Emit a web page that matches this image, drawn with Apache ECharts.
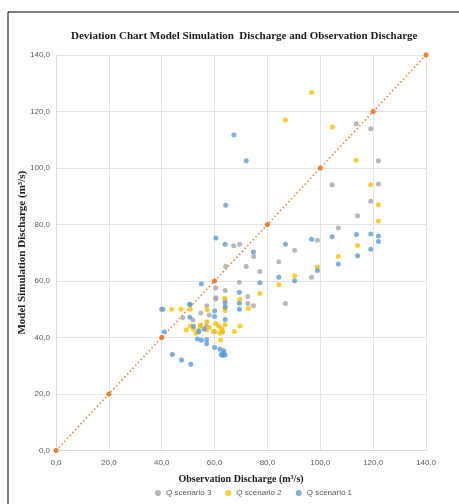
<!DOCTYPE html>
<html><head><meta charset="utf-8">
<script src="https://cdn.jsdelivr.net/npm/echarts@6/dist/echarts.min.js"></script>
<style>html,body{margin:0;padding:0;background:#fff}#c{width:459px;height:504px}</style>
</head><body><div id="c"></div>
<script>
const titleText = "Deviation Chart Model Simulation  Discharge and Observation Discharge";
const xAxisName = "Observation Discharge (m³/s)";
const yAxisName = "Model Simulation Discharge (m³/s)";
const seriesNames = ["Q scenario 3", "Q scenario 2", "Q scenario 1"];
const axisTicks = [0, 20, 40, 60, 80, 100, 120, 140];

const scenario1 = [[40,50],[41,42],[44,34],[47.5,32],[51,30.5],[50.5,51.8],[50.6,47.2],[52,44],[53.5,39.5],[55,39],[57,39.2],[57,37.8],[60,36.5],[62,35.8],[62.5,34],[63.5,34.5],[63,33.6],[64,33.8],[63.4,35.3],[55,59],[60,49.4],[60,47.4],[64,46.4],[64,52.3],[64,50.7],[69.4,52.1],[69.4,50],[69.4,56],[77.1,59.4],[74.7,70.3],[60.5,75.2],[64,73],[64.2,86.8],[67.3,111.7],[72,102.6],[86.8,73],[84.3,61.3],[90.3,60.1],[98.9,63.7],[96.7,74.8],[104.5,75.7],[106.8,66],[113.7,76.5],[114.1,68.9],[119.1,76.6],[119.1,71.2],[122,75.9],[122,74],[54,42],[56,43]];
const scenario2 = [[43.8,50],[47.3,50],[50.8,50],[57.2,49.8],[64,50.9],[64,49.6],[63.8,53.9],[69.5,53.5],[72.8,50.3],[77.1,55.6],[84.3,58.7],[90.3,61.9],[98.9,65],[106.8,68.7],[114.1,72.6],[122,81.2],[122,87],[119.1,94.1],[113.6,102.7],[104.6,114.5],[96.7,126.7],[86.8,117],[54.7,44.4],[57.1,45.6],[60.4,45],[62.5,43.3],[63,42.5],[61.5,44],[56.9,42.7],[59.6,42.1],[67.5,42.1],[69.7,44.1],[62.3,39.1],[50.8,44.1],[49.3,42.7],[52,43],[54.6,44.1],[53,41.5],[58,43.5],[64,44.5],[62,41.5]];
const scenario3 = [[40.5,50],[50.8,51.7],[51.8,46.2],[54.8,48.7],[57.1,51.2],[60.4,53.6],[60.4,57.5],[64,56.6],[64,53.3],[60.5,54.1],[64.2,65.2],[69.4,59.6],[72.6,54.5],[72.6,52],[74.7,51.2],[67.2,72.5],[69.5,73],[74.8,68.7],[72,65.1],[77.1,63.4],[84.3,66.8],[90.3,70.9],[98.9,74.4],[96.7,61.3],[86.8,52],[104.5,94.1],[106.8,78.8],[114.1,83.1],[119.1,88.2],[122,94.3],[122,102.6],[113.6,115.7],[119.1,113.9],[56.9,44],[60,42],[63,42],[58,48],[54,42.5],[48,47]];
const diagonal = [[0,0],[20,20],[40,40],[60,60],[80,80],[100,100],[120,120],[140,140]];

const fmt = v => v.toFixed(1).replace('.', ',');
const chart = echarts.init(document.getElementById('c'), null, {renderer: 'canvas'});
const sym = 5;
chart.setOption({
  animation: false,
  backgroundColor: '#fff',
  graphic: [{type: 'rect', shape: {x: 8, y: 12, width: 500, height: 520}, style: {fill: 'none', stroke: '#000', lineWidth: 1}, silent: true}],
  title: {text: titleText, left: 66, top: 26,
    textStyle: {fontFamily: 'Liberation Serif', fontWeight: 'bold', fontSize: 11, color: '#1a1a1a'}},
  grid: {left: 56, right: 33, top: 55, bottom: 53.5, containLabel: false},
  legend: {bottom: 2, left: 150, itemWidth: 6, itemHeight: 6, itemGap: 14,
    data: seriesNames.map(n => ({name: n, icon: 'circle'})),
    textStyle: {fontFamily: 'Liberation Sans', fontSize: 8, color: '#595959'}},
  xAxis: {type: 'value', min: axisTicks[0], max: axisTicks[axisTicks.length-1], interval: 20,
    name: xAxisName, nameLocation: 'middle', nameGap: 24, nameMoveOverlap: false,
    nameTextStyle: {fontFamily: 'Liberation Serif', fontWeight: 'bold', fontSize: 10, color: '#1a1a1a'},
    axisLine: {show: true, lineStyle: {color: '#d9d9d9'}}, axisTick: {show: false},
    axisLabel: {formatter: fmt, fontFamily: 'Liberation Sans', fontSize: 8, color: '#595959', margin: 8},
    splitLine: {show: true, lineStyle: {color: '#e3e3e3'}}},
  yAxis: {type: 'value', min: axisTicks[0], max: axisTicks[axisTicks.length-1], interval: 20,
    name: yAxisName, nameLocation: 'middle', nameGap: 28, nameMoveOverlap: false,
    nameTextStyle: {fontFamily: 'Liberation Serif', fontWeight: 'bold', fontSize: 11, color: '#1a1a1a'},
    axisLine: {show: true, lineStyle: {color: '#d9d9d9'}}, axisTick: {show: false},
    axisLabel: {formatter: fmt, fontFamily: 'Liberation Sans', fontSize: 8, color: '#595959', margin: 6},
    splitLine: {show: true, lineStyle: {color: '#e3e3e3'}}},
  series: [
    {name: 'diag', type: 'line', data: diagonal, symbol: 'circle', symbolSize: 5, z: 1,
     itemStyle: {color: '#ed7d31'}, lineStyle: {color: '#ed7d31', type: [1.5, 2.5], width: 1.5}},
    {name: seriesNames[0], type: 'scatter', data: scenario3, symbolSize: sym, itemStyle: {color: '#a5a5a5'}, z: 2},
    {name: seriesNames[1], type: 'scatter', data: scenario2, symbolSize: sym, itemStyle: {color: '#ffc000'}, z: 3},
    {name: seriesNames[2], type: 'scatter', data: scenario1, symbolSize: sym, itemStyle: {color: '#5b9bd5'}, z: 4}
  ]
});
</script></body></html>
